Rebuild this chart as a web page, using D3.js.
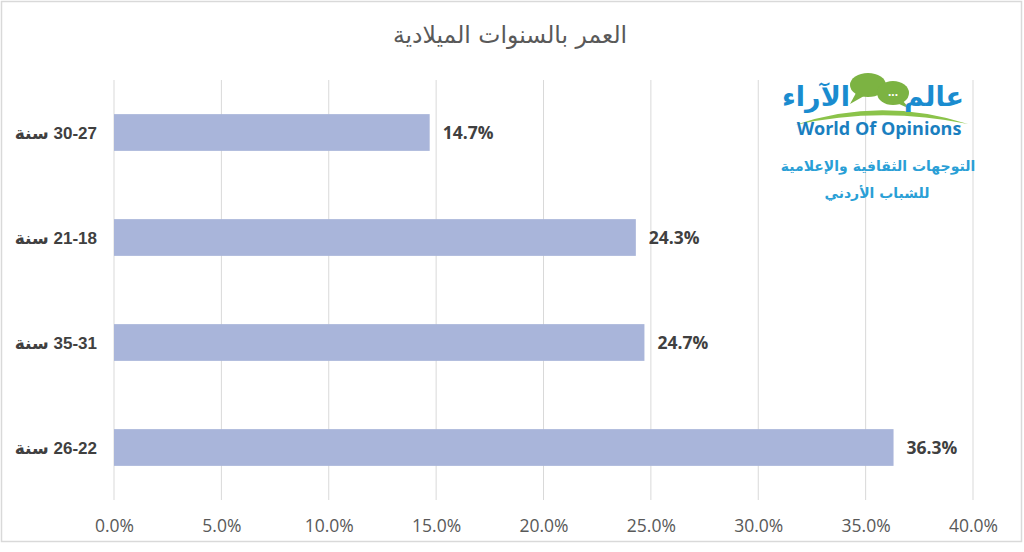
<!DOCTYPE html>
<html>
<head>
<meta charset="utf-8">
<script src="https://cdn.jsdelivr.net/npm/d3@7"></script>
<style>
  body { margin: 0; background: #fff; }
  text { font-family: "Liberation Sans", Arial, sans-serif; }
</style>
</head>
<body>
<svg id="chart"></svg>
<script>
var w = 1024, h = 552;
var margin = {top: 80, right: 51, bottom: 52, left: 114};

// data
var categories = ['30-27 سنة', '21-18 سنة', '35-31 سنة', '26-22 سنة'];
var values = [14.7, 24.3, 24.7, 36.3];
var ticks = [0, 5, 10, 15, 20, 25, 30, 35, 40];
var title = 'العمر بالسنوات الميلادية';

var svg = d3.select('#chart').attr('width', w).attr('height', h);

// outer border
svg.append('rect')
  .attr('x', 1.5).attr('y', 1.5)
  .attr('width', w - 4).attr('height', h - 12)
  .attr('fill', '#fff').attr('stroke', '#d9d9d9').attr('stroke-width', 1.5);

var xScale = d3.scaleLinear()
  .domain([0, 40])
  .range([margin.left, w - margin.right]);

var yScale = d3.scaleBand()
  .domain(categories)
  .range([margin.top, h - margin.bottom])
  .paddingInner(0.65)
  .paddingOuter(0.325);

// grid lines
svg.selectAll('.grid').data(ticks).enter()
  .append('line')
  .attr('class', 'grid')
  .attr('x1', function(d) { return xScale(d); })
  .attr('x2', function(d) { return xScale(d); })
  .attr('y1', margin.top)
  .attr('y2', h - margin.bottom)
  .attr('stroke', '#d9d9d9').attr('stroke-width', 1);

// x axis
var xAxis = d3.axisBottom(xScale)
  .tickValues(ticks)
  .tickSize(0)
  .tickPadding(20)
  .tickFormat(function(d) { return d.toFixed(1) + '%'; });
var xAxisG = svg.append('g')
  .attr('transform', 'translate(0,' + (h - margin.bottom) + ')')
  .call(xAxis);
xAxisG.select('.domain').remove();
xAxisG.selectAll('text')
  .attr('fill', '#595959')
  .style('font-family', '"Open Sans", "Liberation Sans", sans-serif')
  .style('font-size', '17.5px');

// bars
svg.selectAll('.bar').data(values).enter()
  .append('rect')
  .attr('class', 'bar')
  .attr('x', xScale(0))
  .attr('y', function(d, i) { return yScale(categories[i]); })
  .attr('width', function(d) { return xScale(d) - xScale(0); })
  .attr('height', yScale.bandwidth())
  .attr('fill', '#a9b5da');

// value labels
svg.selectAll('.val').data(values).enter()
  .append('text')
  .attr('class', 'val')
  .attr('x', function(d) { return xScale(d) + 13; })
  .attr('y', function(d, i) { return yScale(categories[i]) + yScale.bandwidth() / 2; })
  .attr('dy', '0.36em')
  .attr('fill', '#404040')
  .style('font-size', '17.5px')
  .style('font-weight', 'bold')
  .style('font-family', '"Open Sans", "Liberation Sans", sans-serif')
  .text(function(d) { return d.toFixed(1) + '%'; });

// category labels
svg.selectAll('.cat').data(categories).enter()
  .append('text')
  .attr('class', 'cat')
  .attr('x', margin.left - 17)
  .attr('y', function(d) { return yScale(d) + yScale.bandwidth() / 2; })
  .attr('dy', '0.36em')
  .attr('text-anchor', 'start')
  .attr('direction', 'rtl')
  .attr('fill', '#404040')
  .style('font-size', '17px')
  .style('font-weight', 'bold')
  .style('font-family', '"Liberation Sans", "DejaVu Sans", sans-serif')
  .text(function(d) { return d; });

// title
svg.append('text')
  .attr('x', 510).attr('y', 43)
  .attr('text-anchor', 'middle')
  .attr('fill', '#595959')
  .style('font-size', '23.5px')
  .style('font-family', '"DejaVu Sans", sans-serif')
  .text(title);

// logo
var logo = svg.append('g');
logo.append('path')
  .attr('d', 'M795,125 Q880,96 968,124 Q880,106 795,125 Z')
  .attr('fill', '#8bc34a');
logo.append('ellipse').attr('cx', 868).attr('cy', 85).attr('rx', 18).attr('ry', 12).attr('fill', '#7cb342');
logo.append('path').attr('d', 'M856,93 L850,104 L864,96 Z').attr('fill', '#7cb342');
logo.append('ellipse').attr('cx', 893).attr('cy', 93).attr('rx', 16).attr('ry', 12).attr('fill', '#7cb342');
logo.append('path').attr('d', 'M902,100 L910,109 L897,103 Z').attr('fill', '#7cb342');
logo.append('text').attr('x', 893).attr('y', 96).attr('text-anchor', 'middle')
  .attr('fill', '#fff').style('font-size', '12px').style('font-weight', 'bold').text('...');
logo.append('text').attr('x', 964).attr('y', 106).attr('text-anchor', 'end')
  .attr('fill', '#1a8ccf').style('font-size', '27px').style('font-weight', 'bold')
  .style('font-family', '"DejaVu Sans", sans-serif').text('عالم');
logo.append('text').attr('x', 850).attr('y', 106).attr('text-anchor', 'end')
  .attr('fill', '#1a8ccf').style('font-size', '27px').style('font-weight', 'bold')
  .style('font-family', '"DejaVu Sans", sans-serif').text('الآراء');
logo.append('text').attr('x', 879).attr('y', 135).attr('text-anchor', 'middle')
  .attr('fill', '#1a7fc0').style('font-size', '18px').style('font-weight', 'bold')
  .style('font-family', '"Open Sans", "Liberation Sans", sans-serif').text('World Of Opinions');
logo.append('text').attr('x', 878).attr('y', 171).attr('text-anchor', 'middle')
  .attr('fill', '#2a9fd6').style('font-size', '14px').style('font-weight', 'bold')
  .style('font-family', '"DejaVu Sans", sans-serif').text('التوجهات الثقافية والإعلامية');
logo.append('text').attr('x', 877).attr('y', 198).attr('text-anchor', 'middle')
  .attr('fill', '#2a9fd6').style('font-size', '14px').style('font-weight', 'bold')
  .style('font-family', '"DejaVu Sans", sans-serif').text('للشباب الأردني');
</script>
</body>
</html>
